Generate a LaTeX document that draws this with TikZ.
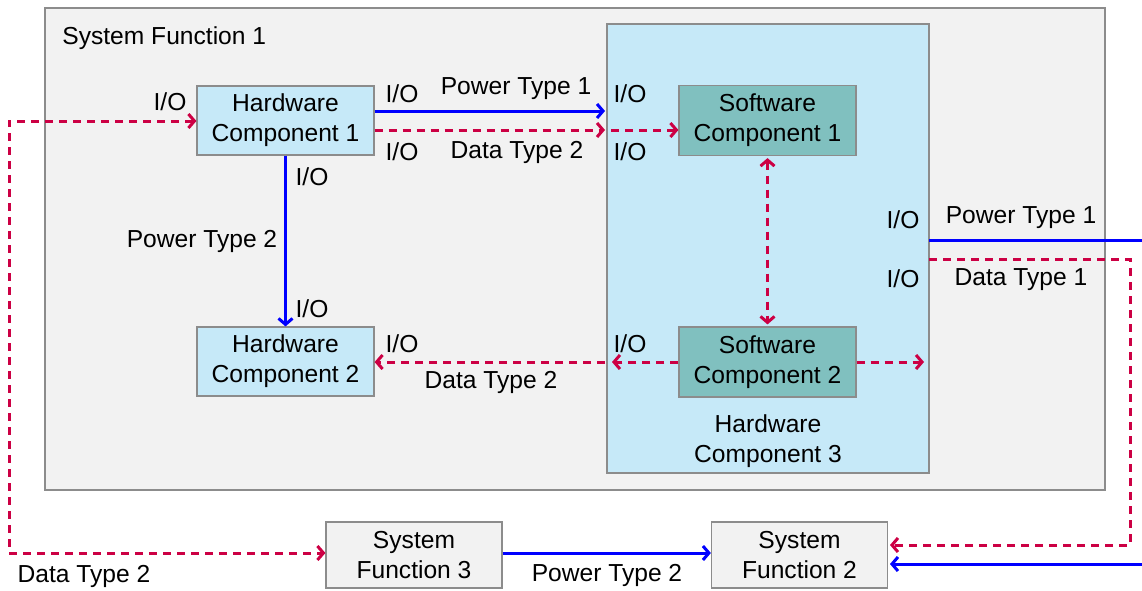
\documentclass[tikz,border=0pt]{standalone}
\usepackage{fontspec}
\setmainfont{Liberation Sans}
\usetikzlibrary{arrows.meta}
\definecolor{bgray}{HTML}{F2F2F2}
\definecolor{lblue}{HTML}{C6E9F8}
\definecolor{tealc}{HTML}{80C0BF}
\definecolor{pblue}{HTML}{0000FF}
\definecolor{dred}{HTML}{CC0044}
\definecolor{bord}{HTML}{8C8C8C}
\begin{document}
\begin{tikzpicture}[x=0.5pt,y=-0.5pt,
  font=\fontsize{12.3}{15}\selectfont,
  >={Straight Barb[length=3pt,width=7pt]},
  box/.style={draw=bord, line width=0.6pt, inner sep=0pt, align=center},
  hwbox/.style={box, fill=lblue, minimum width=88.5pt, minimum height=34.5pt},
  swbox/.style={box, fill=tealc, minimum width=88.5pt, minimum height=35pt},
  sfbox/.style={box, fill=bgray, minimum width=88pt, minimum height=33pt},
  power/.style={draw=pblue, line width=1.5pt},
  data/.style={draw=dred, line width=1.5pt, dash pattern=on 4pt off 3pt},
  lbl/.style={inner sep=0pt, align=center}
]
\useasboundingbox (0,0) rectangle (1142,590);
% containers
\node[box, fill=bgray, minimum width=530pt, minimum height=241pt] (sf1) at (575,249) {};
\node[lbl, anchor=west] (sf1lbl) at (62,38) {System Function 1};
\node[box, fill=lblue, minimum width=161pt, minimum height=224.5pt] (hc3) at (768,248.5) {};
\node[lbl] (hc3lbl) at (768,441) {Hardware\\Component 3};
% components
\node[hwbox] (hc1) at (285.5,120.5) {Hardware\\Component 1};
\node[hwbox] (hc2) at (285.5,361.5) {Hardware\\Component 2};
\node[swbox] (sc1) at (767.5,120.5) {Software\\Component 1};
\node[swbox] (sc2) at (767.5,362) {Software\\Component 2};
\node[sfbox] (sf3) at (414,555) {System\\Function 3};
\node[sfbox] (sf2) at (799.5,555) {System\\Function 2};
% free coordinates
\coordinate (hc3pin) at (605,111);
\coordinate (hc3din) at (605,130);
\coordinate (hc3dmid) at (611,130);
\coordinate (hc3dout) at (612,362);
\coordinate (hc3dmid2) at (605,362);
\coordinate (hc3right) at (924,362);
\coordinate (pout) at (929,240);
\coordinate (pend) at (1142,240);
\coordinate (dout) at (929,259);
\coordinate (dc1) at (1130,259);
\coordinate (dc2) at (1130,545);
\coordinate (sf2d) at (890,545);
\coordinate (pin2) at (1142,564);
\coordinate (sf2p) at (890,564);
\coordinate (lc1) at (9,121);
\coordinate (lc2) at (9,553);
% power connectors
\draw[power,->] (hc1.east |- hc3pin) -- (hc3pin);
\draw[power,->] (hc1.south) -- (hc2.north);
\draw[power] (pout) -- (pend);
\draw[power,->] (pin2) -- (sf2p);
\draw[power,->] (sf3.east |- 0,553) -- (sf2.west |- 0,553);
% data connectors
\draw[data,->] (hc1.east |- hc3din) -- (hc3din);
\draw[data,->] (hc3dmid) -- (sc1.west |- hc3dmid);
\draw[data,<->] ([yshift=-1pt]sc1.south) -- ([yshift=1pt]sc2.north);
\draw[data,->] (sc2.west) -- (hc3dout);
\draw[data,->] (hc3dmid2) -- (hc2.east |- hc3dmid2);
\draw[data,->] (sc2.east) -- (hc3right);
\draw[data,->] (dout) -- (dc1) -- (dc2) -- (sf2d);
\draw[data,<->] (hc1.west |- lc1) -- (lc1) -- (lc2) -- (sf3.west |- lc2);
% labels
\node[lbl] (l1) at (170,102) {I/O};
\node[lbl] (l2) at (402,94) {I/O};
\node[lbl] (l3) at (516,89) {Power Type 1};
\node[lbl] (l4) at (630,94) {I/O};
\node[lbl] (l5) at (402,152) {I/O};
\node[lbl] (l6) at (517,152) {Data Type 2};
\node[lbl] (l7) at (630,152) {I/O};
\node[lbl] (l8) at (312,177) {I/O};
\node[lbl] (l9) at (202,241) {Power Type 2};
\node[lbl] (l10) at (312,309) {I/O};
\node[lbl] (l11) at (402,344) {I/O};
\node[lbl] (l12) at (491,382) {Data Type 2};
\node[lbl] (l13) at (630,344) {I/O};
\node[lbl] (l14) at (903,220) {I/O};
\node[lbl] (l15) at (1021,218) {Power Type 1};
\node[lbl] (l16) at (903,279) {I/O};
\node[lbl] (l17) at (1021,280) {Data Type 1};
\node[lbl] (l18) at (84,576) {Data Type 2};
\node[lbl] (l19) at (607,575) {Power Type 2};
\end{tikzpicture}
\end{document}
